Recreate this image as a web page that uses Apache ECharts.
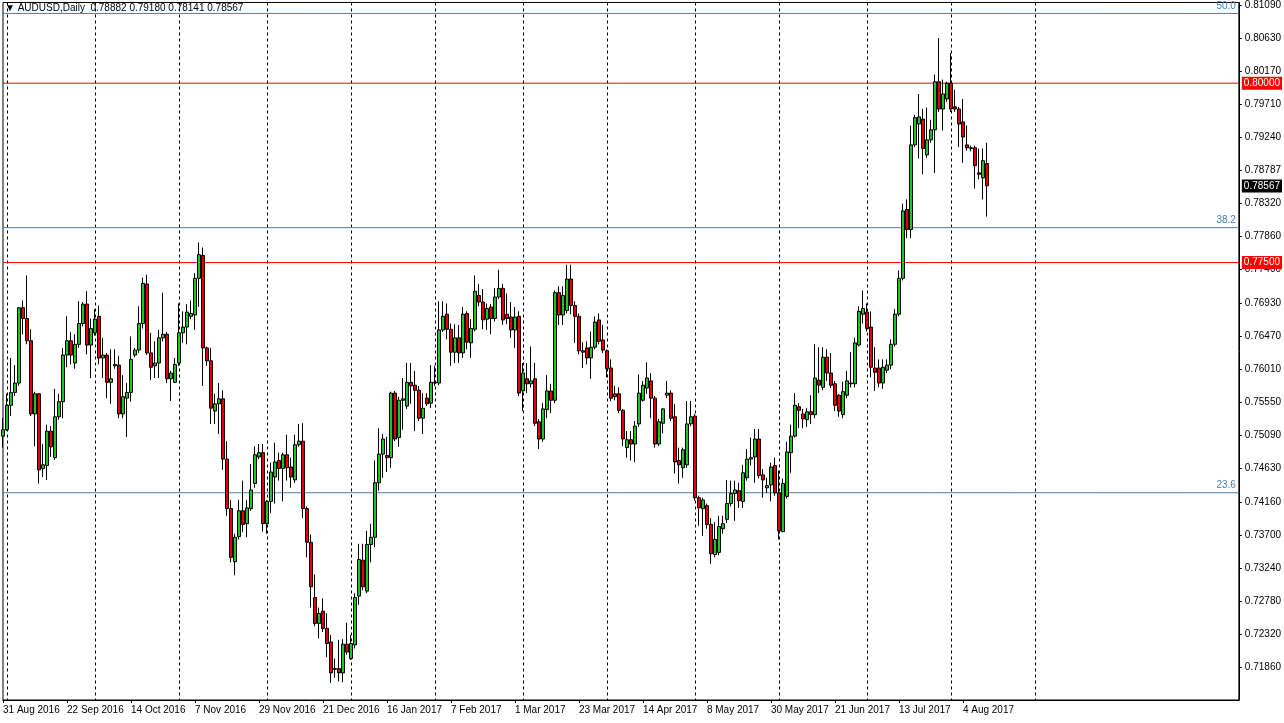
<!DOCTYPE html>
<html>
<head>
<meta charset="utf-8">
<script src="https://cdn.jsdelivr.net/npm/echarts@6/dist/echarts.min.js"></script>
<style>
  html, body { margin: 0; padding: 0; background: #fff; }
  #chart { width: 1284px; height: 723px; }
</style>
</head>
<body>
<div id="chart"></div>
<script>
// AUDUSD daily bars
var opens = [
  0.7508,0.7517,0.7551,0.7569,0.7582,0.7687,0.7672,0.7641,0.7539,0.7567,
  0.7463,0.7467,0.7515,0.7478,0.7535,0.7556,0.7621,0.7641,0.7610,0.7636,
  0.7665,0.7692,0.7635,0.7652,0.7675,0.7617,0.7621,0.7583,0.7606,0.7607,
  0.7539,0.7561,0.7569,0.7621,0.7628,0.7665,0.7720,0.7624,0.7606,0.7610,
  0.7645,0.7650,0.7588,0.7583,0.7610,0.7652,0.7660,0.7675,0.7677,0.7728,
  0.7760,0.7631,0.7613,0.7543,0.7553,0.7560,0.7476,0.7407,0.7333,0.7368,
  0.7404,0.7386,0.7407,0.7442,0.7479,0.7485,0.7386,0.7417,0.7451,0.7474,
  0.7463,0.7482,0.7465,0.7447,0.7496,0.7501,0.7407,0.7360,0.7283,0.7247,
  0.7264,0.7240,0.7221,0.7184,0.7184,0.7178,0.7218,0.7198,0.7217,0.7285,
  0.7335,0.7292,0.7357,0.7367,0.7443,0.7483,0.7481,0.7478,0.7568,0.7506,
  0.7558,0.7550,0.7583,0.7579,0.7572,0.7533,0.7561,0.7554,0.7582,0.7582,
  0.7656,0.7678,0.7657,0.7625,0.7645,0.7624,0.7679,0.7638,0.7657,0.7704,
  0.7695,0.7671,0.7688,0.7672,0.7702,0.7714,0.7678,0.7674,0.7656,0.7675,
  0.7571,0.7588,0.7581,0.7588,0.7528,0.7504,0.7545,0.7571,0.7558,0.7708,
  0.7677,0.7683,0.7727,0.7690,0.7675,0.7627,0.7631,0.7617,0.7632,0.7670,
  0.7642,0.7627,0.7603,0.7567,0.7567,0.7544,0.7492,0.7503,0.7497,0.7525,
  0.7558,0.7575,0.7585,0.7561,0.7497,0.7526,0.7565,0.7568,0.7535,0.7474,
  0.7464,0.7468,0.7525,0.7536,0.7422,0.7407,0.7411,0.7385,0.7343,0.7346,
  0.7379,0.7392,0.7414,0.7428,0.7432,0.7417,0.7450,0.7476,0.7479,0.7504,
  0.7454,0.7436,0.7440,0.7467,0.7429,0.7375,0.7424,0.7485,0.7508,0.7549,
  0.7539,0.7531,0.7542,0.7538,0.7586,0.7576,0.7618,0.7596,0.7581,0.7565,
  0.7538,0.7565,0.7581,0.7581,0.7635,0.7678,0.7681,0.7660,0.7603,0.7603,
  0.7582,0.7600,0.7607,0.7636,0.7678,0.7728,0.7824,0.7796,0.7914,0.7943,
  0.7950,0.7900,0.7921,0.7935,0.8002,0.7964,0.7978,0.8000,0.7967,0.7964,
  0.7946,0.7914,0.7910,0.7910,0.7875,0.7868,0.7888
];
var closes = [
  0.7517,0.7551,0.7569,0.7582,0.7687,0.7672,0.7641,0.7539,0.7567,0.7461,
  0.7468,0.7515,0.7493,0.7535,0.7556,0.7621,0.7641,0.7621,0.7636,0.7665,
  0.7692,0.7635,0.7658,0.7671,0.7617,0.7621,0.7583,0.7588,0.7608,0.7539,
  0.7563,0.7569,0.7615,0.7628,0.7665,0.7721,0.7624,0.7604,0.7610,0.7645,
  0.7650,0.7588,0.7596,0.7608,0.7652,0.7660,0.7681,0.7679,0.7728,0.7761,
  0.7631,0.7613,0.7547,0.7553,0.7560,0.7476,0.7407,0.7339,0.7367,0.7404,
  0.7385,0.7408,0.7433,0.7482,0.7485,0.7386,0.7417,0.7458,0.7472,0.7463,
  0.7482,0.7464,0.7451,0.7496,0.7501,0.7407,0.7360,0.7298,0.7247,0.7261,
  0.7240,0.7219,0.7178,0.7183,0.7178,0.7218,0.7207,0.7219,0.7283,0.7336,
  0.7298,0.7357,0.7367,0.7443,0.7483,0.7504,0.7478,0.7568,0.7504,0.7558,
  0.7560,0.7583,0.7578,0.7572,0.7533,0.7547,0.7553,0.7583,0.7583,0.7656,
  0.7675,0.7657,0.7625,0.7645,0.7624,0.7678,0.7639,0.7658,0.7710,0.7695,
  0.7670,0.7686,0.7672,0.7702,0.7714,0.7670,0.7672,0.7656,0.7674,0.7568,
  0.7596,0.7581,0.7585,0.7526,0.7504,0.7546,0.7571,0.7558,0.7708,0.7677,
  0.7704,0.7727,0.7690,0.7675,0.7627,0.7625,0.7617,0.7632,0.7667,0.7640,
  0.7628,0.7602,0.7561,0.7563,0.7544,0.7504,0.7503,0.7497,0.7522,0.7568,
  0.7579,0.7589,0.7561,0.7497,0.7528,0.7546,0.7568,0.7533,0.7472,0.7468,
  0.7489,0.7525,0.7535,0.7422,0.7408,0.7419,0.7385,0.7344,0.7364,0.7382,
  0.7386,0.7414,0.7428,0.7433,0.7418,0.7457,0.7476,0.7478,0.7504,0.7453,
  0.7447,0.7439,0.7465,0.7429,0.7376,0.7442,0.7486,0.7508,0.7551,0.7544,
  0.7532,0.7542,0.7538,0.7589,0.7579,0.7618,0.7596,0.7579,0.7551,0.7543,
  0.7570,0.7585,0.7582,0.7638,0.7682,0.7686,0.7658,0.7604,0.7597,0.7582,
  0.7604,0.7607,0.7636,0.7678,0.7728,0.7822,0.7796,0.7914,0.7952,0.7953,
  0.7909,0.7921,0.7935,0.8002,0.7964,0.7985,0.8000,0.7964,0.7964,0.7943,
  0.7925,0.7910,0.7909,0.7885,0.7873,0.7892,0.7857
];
var lows = [
  0.7492,0.7515,0.7536,0.7564,0.7578,0.7650,0.7636,0.7536,0.7494,0.7442,
  0.7451,0.7447,0.7479,0.7475,0.7531,0.7533,0.7604,0.7608,0.7602,0.7631,
  0.7661,0.7622,0.7589,0.7648,0.7608,0.7589,0.7561,0.7553,0.7602,0.7533,
  0.7533,0.7507,0.7556,0.7618,0.7624,0.7658,0.7621,0.7586,0.7589,0.7589,
  0.7640,0.7582,0.7557,0.7582,0.7606,0.7638,0.7636,0.7671,0.7656,0.7688,
  0.7578,0.7606,0.7525,0.7525,0.7511,0.7461,0.7397,0.7332,0.7314,0.7364,
  0.7374,0.7367,0.7404,0.7436,0.7476,0.7375,0.7372,0.7401,0.7414,0.7446,
  0.7417,0.7446,0.7436,0.7443,0.7493,0.7394,0.7339,0.7269,0.7243,0.7226,
  0.7235,0.7200,0.7164,0.7171,0.7166,0.7165,0.7203,0.7196,0.7212,0.7273,
  0.7293,0.7289,0.7332,0.7353,0.7432,0.7450,0.7458,0.7464,0.7501,0.7493,
  0.7517,0.7546,0.7553,0.7515,0.7529,0.7511,0.7550,0.7547,0.7578,0.7579,
  0.7653,0.7643,0.7606,0.7610,0.7610,0.7617,0.7629,0.7617,0.7654,0.7689,
  0.7657,0.7656,0.7650,0.7668,0.7699,0.7663,0.7664,0.7645,0.7631,0.7564,
  0.7543,0.7568,0.7576,0.7522,0.7490,0.7500,0.7533,0.7540,0.7554,0.7663,
  0.7663,0.7679,0.7678,0.7638,0.7622,0.7603,0.7608,0.7588,0.7629,0.7636,
  0.7624,0.7590,0.7557,0.7558,0.7540,0.7494,0.7478,0.7474,0.7472,0.7521,
  0.7556,0.7567,0.7533,0.7492,0.7494,0.7512,0.7561,0.7529,0.7456,0.7442,
  0.7450,0.7464,0.7522,0.7418,0.7383,0.7369,0.7379,0.7330,0.7339,0.7342,
  0.7372,0.7387,0.7410,0.7390,0.7408,0.7408,0.7446,0.7467,0.7443,0.7449,
  0.7422,0.7429,0.7417,0.7425,0.7364,0.7374,0.7421,0.7457,0.7506,0.7519,
  0.7519,0.7521,0.7525,0.7533,0.7568,0.7572,0.7585,0.7575,0.7543,0.7535,
  0.7533,0.7561,0.7576,0.7576,0.7633,0.7665,0.7654,0.7590,0.7571,0.7576,
  0.7574,0.7596,0.7601,0.7633,0.7675,0.7725,0.7784,0.7784,0.7911,0.7895,
  0.7873,0.7896,0.7917,0.7875,0.7960,0.7934,0.7974,0.7960,0.7960,0.7911,
  0.7889,0.7906,0.7905,0.7853,0.7866,0.7838,0.7814
];
var highs = [
  0.7533,0.7567,0.7617,0.7607,0.7688,0.7697,0.7732,0.7657,0.7570,0.7568,
  0.7497,0.7524,0.7522,0.7574,0.7567,0.7631,0.7675,0.7653,0.7650,0.7696,
  0.7695,0.7710,0.7672,0.7685,0.7690,0.7645,0.7624,0.7629,0.7629,0.7620,
  0.7593,0.7582,0.7647,0.7631,0.7689,0.7729,0.7733,0.7652,0.7640,0.7656,
  0.7708,0.7653,0.7599,0.7617,0.7693,0.7682,0.7692,0.7697,0.7735,0.7778,
  0.7771,0.7633,0.7631,0.7567,0.7582,0.7572,0.7501,0.7419,0.7372,0.7419,
  0.7446,0.7419,0.7469,0.7494,0.7497,0.7497,0.7419,0.7471,0.7499,0.7485,
  0.7485,0.7510,0.7478,0.7510,0.7525,0.7526,0.7410,0.7371,0.7315,0.7269,
  0.7282,0.7261,0.7231,0.7198,0.7224,0.7225,0.7248,0.7231,0.7289,0.7358,
  0.7358,0.7376,0.7386,0.7474,0.7519,0.7511,0.7507,0.7570,0.7571,0.7563,
  0.7589,0.7610,0.7610,0.7599,0.7578,0.7568,0.7568,0.7607,0.7606,0.7696,
  0.7696,0.7693,0.7665,0.7664,0.7663,0.7688,0.7682,0.7671,0.7732,0.7720,
  0.7713,0.7693,0.7692,0.7714,0.7740,0.7720,0.7707,0.7695,0.7688,0.7682,
  0.7610,0.7610,0.7633,0.7610,0.7532,0.7554,0.7593,0.7581,0.7711,0.7717,
  0.7717,0.7747,0.7747,0.7696,0.7679,0.7639,0.7640,0.7654,0.7675,0.7679,
  0.7663,0.7629,0.7615,0.7578,0.7576,0.7546,0.7515,0.7515,0.7529,0.7594,
  0.7585,0.7611,0.7596,0.7564,0.7532,0.7547,0.7585,0.7572,0.7553,0.7492,
  0.7492,0.7557,0.7557,0.7539,0.7425,0.7422,0.7414,0.7394,0.7388,0.7397,
  0.7397,0.7447,0.7446,0.7446,0.7443,0.7468,0.7490,0.7506,0.7518,0.7518,
  0.7462,0.7450,0.7471,0.7478,0.7460,0.7449,0.7500,0.7524,0.7568,0.7554,
  0.7546,0.7547,0.7565,0.7636,0.7632,0.7632,0.7629,0.7624,0.7585,0.7567,
  0.7584,0.7599,0.7625,0.7645,0.7689,0.7711,0.7693,0.7682,0.7632,0.7615,
  0.7615,0.7615,0.7643,0.7685,0.7739,0.7832,0.7838,0.7941,0.7956,0.7985,
  0.7964,0.7966,0.7949,0.8012,0.8063,0.8005,0.8002,0.8042,0.7991,0.7967,
  0.7978,0.7941,0.7913,0.7913,0.7909,0.7909,0.7917
];
var dateLabels = ['31 Aug 2016','22 Sep 2016','14 Oct 2016','7 Nov 2016','29 Nov 2016',
  '21 Dec 2016','16 Jan 2017','7 Feb 2017','1 Mar 2017','23 Mar 2017','14 Apr 2017',
  '8 May 2017','30 May 2017','21 Jun 2017','13 Jul 2017','4 Aug 2017'];
var priceTicks = [0.81090,0.80630,0.80170,0.79710,0.79240,0.78787,0.78320,0.77860,0.77400,
  0.76930,0.76470,0.76010,0.75550,0.75090,0.74630,0.74160,0.73700,0.73240,0.72780,
  0.72320,0.71860,0.71390];
var gridBars = [1,23,44,66,87,108,130,151,173,194,216,237,258];
var fibLevels = [0.80972, 0.77986, 0.74291];
var fibNames = ['50.0', '38.2', '23.6'];
var redLevels = [0.80000, 0.77500];
var lastPrice = 0.78567;

var slotCount = 310;   // bars + empty space to the right
var categories = [];
for (var i = 0; i < slotCount; i++) {
    categories.push(i % 16 === 0 && i / 16 < dateLabels.length ? dateLabels[i / 16] : '');
}
var ohlc = [];
for (var j = 0; j < opens.length; j++) {
    ohlc.push([opens[j], closes[j], lows[j], highs[j]]);
}

var font = 'Liberation Sans';

// a horizontal level drawn as a two-point line across the whole grid, label at its end
function level(v, color, endLabel, hideLine) {
    return {
        type: 'line', silent: true, clip: false, z: 1,
        showSymbol: false,
        lineStyle: {color: color, width: 1, opacity: hideLine ? 0 : 1},
        endLabel: endLabel,
        data: [[0, v], [slotCount - 1, v]]
    };
}
function boxLabel(v, bg) {
    return {show: true, distance: 3, formatter: v.toFixed(5),
        color: '#fff', backgroundColor: bg, padding: [2, 2, 1, 2],
        fontFamily: font, fontSize: 10};
}

var series = [];
fibLevels.forEach(function (v, k) {
    series.push(level(v, '#4682b4', {show: true, align: 'right', distance: 0,
        offset: [-3, -7], formatter: fibNames[k], color: '#4682b4', fontFamily: font, fontSize: 10}));
});
redLevels.forEach(function (v) {
    series.push(level(v, '#ff0000', boxLabel(v, '#ff0000')));
});
series.push(level(lastPrice, '#000', boxLabel(lastPrice, '#000'), true));
series.push({
    type: 'candlestick',
    data: ohlc,
    barWidth: 3,
    clip: false,
    z: 3,
    itemStyle: {
        color: '#22c322', color0: '#e60000',
        borderColor: '#000', borderColor0: '#000', borderWidth: 1
    }
});

var chart = echarts.init(document.getElementById('chart'));
chart.setOption({
    animation: false,
    backgroundColor: '#fff',
    grid: {left: 3, right: 44, top: 0, bottom: 23, show: true, borderColor: '#000', borderWidth: 1},
    graphic: [{
        type: 'text', left: 5, top: 3,
        style: {text: '\u25BC AUDUSD,Daily  0.78882 0.79180 0.78141 0.78567',
            fill: '#000', font: '10px ' + font}
    }],
    xAxis: {
        type: 'category',
        data: categories,
        boundaryGap: false,
        axisLine: {lineStyle: {color: '#000'}},
        axisTick: {show: true, length: 3, lineStyle: {color: '#000'},
            interval: function (i) { return i % 16 === 0 && i <= 240; }},
        axisLabel: {
            interval: function (i) { return i % 16 === 0 && i <= 240; },
            align: 'left', margin: 5, color: '#000', fontFamily: font, fontSize: 10
        },
        splitLine: {
            show: true,
            interval: function (i) { return gridBars.indexOf(i) >= 0; },
            lineStyle: {color: '#000', type: [3, 3], width: 1}
        }
    },
    yAxis: {
        type: 'value',
        position: 'right',
        min: 0.71402,
        max: 0.81125,
        splitLine: {show: false},
        axisLine: {show: true, lineStyle: {color: '#000'}},
        axisTick: {show: true, length: 3, customValues: priceTicks, lineStyle: {color: '#000'}},
        axisLabel: {
            customValues: priceTicks, margin: 6, color: '#000',
            fontFamily: font, fontSize: 10,
            formatter: function (v) { return v.toFixed(5); }
        }
    },
    series: series
});
</script>
</body>
</html>
